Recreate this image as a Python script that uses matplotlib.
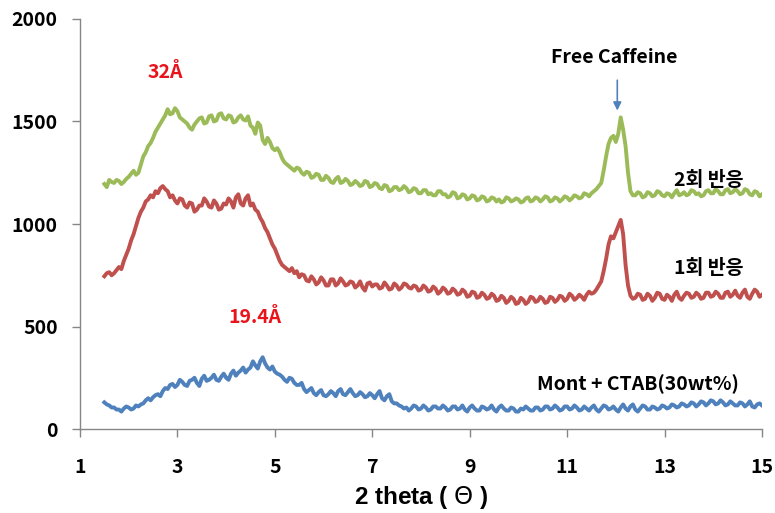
import numpy as np
import matplotlib.pyplot as plt

plt.rcParams['font.family'] = ['Noto Sans CJK KR', 'DejaVu Sans']

# 2-theta scan, 1.5 to 15 deg in 0.05 deg steps
two_theta = np.linspace(1.5, 15.0, 271)

# second reaction
react2 = [1195, 1180, 1215, 1205, 1200, 1215, 1210, 1195, 1205, 1220, 1230, 1245, 1260, 1240, 1250, 1290, 1330, 1350, 1380, 1395,
          1420, 1450, 1470, 1490, 1510, 1530, 1560, 1535, 1540, 1565, 1550, 1520, 1510, 1500, 1490, 1470, 1460, 1485, 1500, 1515,
          1520, 1490, 1495, 1525, 1530, 1500, 1505, 1535, 1540, 1515, 1510, 1530, 1525, 1495, 1500, 1520, 1530, 1510, 1505, 1525,
          1480, 1470, 1440, 1495, 1480, 1410, 1390, 1420, 1400, 1370, 1360, 1370, 1350, 1320, 1300, 1290, 1280, 1270, 1260, 1275,
          1270, 1250, 1240, 1255, 1250, 1225, 1230, 1245, 1240, 1215, 1215, 1235, 1225, 1205, 1200, 1220, 1230, 1200, 1205, 1220,
          1210, 1190, 1195, 1210, 1200, 1185, 1190, 1210, 1205, 1180, 1185, 1200, 1195, 1175, 1170, 1190, 1185, 1160, 1165, 1180,
          1180, 1165, 1170, 1185, 1175, 1155, 1160, 1175, 1170, 1150, 1150, 1165, 1165, 1145, 1150, 1140, 1140, 1160, 1160, 1145,
          1145, 1130, 1135, 1155, 1150, 1125, 1130, 1145, 1140, 1120, 1125, 1140, 1135, 1115, 1120, 1135, 1130, 1110, 1115, 1130,
          1125, 1110, 1120, 1105, 1110, 1130, 1125, 1110, 1115, 1125, 1120, 1105, 1110, 1125, 1130, 1110, 1115, 1130, 1125, 1110,
          1120, 1135, 1130, 1110, 1115, 1130, 1125, 1110, 1120, 1135, 1130, 1115, 1125, 1140, 1135, 1125, 1130, 1150, 1145, 1135,
          1150, 1160, 1170, 1185, 1200, 1260, 1330, 1390, 1420, 1430, 1400, 1440, 1520, 1460, 1380, 1250, 1160, 1140, 1140, 1155,
          1150, 1130, 1135, 1155, 1150, 1135, 1140, 1160, 1155, 1140, 1135, 1150, 1145, 1130, 1150, 1165, 1140, 1145, 1155, 1140,
          1145, 1165, 1160, 1145, 1150, 1135, 1140, 1160, 1165, 1150, 1150, 1170, 1160, 1145, 1145, 1165, 1170, 1150, 1155, 1170,
          1160, 1145, 1150, 1170, 1165, 1145, 1140, 1160, 1155, 1135, 1145]

# first reaction
react1 = [745, 760, 765, 750, 760, 775, 790, 780, 820, 850, 880, 920, 950, 990, 1030, 1060, 1080, 1110, 1120, 1140,
          1130, 1160, 1150, 1175, 1185, 1170, 1160, 1130, 1140, 1115, 1100, 1125, 1120, 1090, 1080, 1105, 1100, 1060, 1070, 1090,
          1090, 1125, 1110, 1085, 1080, 1115, 1100, 1070, 1075, 1100, 1095, 1125, 1110, 1080, 1130, 1145, 1100, 1090, 1125, 1140,
          1090, 1100, 1070, 1060, 1030, 1010, 980, 960, 930, 900, 880, 850, 820, 800, 790, 780, 770, 785, 760, 770,
          740, 755, 750, 725, 720, 745, 730, 705, 715, 740, 725, 700, 700, 730, 730, 700, 710, 735, 720, 700,
          705, 720, 715, 690, 700, 720, 690, 675, 710, 715, 695, 705, 705, 685, 690, 715, 700, 680, 685, 710,
          700, 680, 690, 710, 705, 690, 685, 700, 695, 675, 680, 700, 690, 670, 675, 695, 685, 660, 670, 690,
          680, 660, 665, 685, 675, 655, 660, 680, 670, 645, 650, 670, 665, 640, 645, 665, 655, 635, 640, 660,
          650, 625, 630, 650, 640, 615, 625, 645, 635, 610, 615, 640, 630, 610, 620, 645, 640, 620, 625, 645,
          635, 615, 620, 645, 640, 620, 630, 650, 645, 625, 635, 660, 650, 630, 640, 655, 645, 630, 655, 670,
          660, 665, 680, 700, 720, 770, 830, 900, 940, 930, 960, 990, 1020, 950, 800, 700, 650, 635, 640, 660,
          655, 630, 635, 660, 650, 625, 640, 665, 660, 635, 630, 655, 645, 625, 655, 670, 640, 630, 650, 665,
          660, 640, 645, 665, 655, 635, 640, 665, 665, 645, 650, 670, 660, 640, 640, 665, 670, 645, 655, 675,
          650, 640, 665, 680, 645, 635, 660, 680, 670, 645, 655]

# Mont + CTAB (30 wt%)
mont_ctab = [130, 120, 115, 105, 105, 95, 95, 85, 100, 110, 105, 95, 100, 115, 110, 120, 125, 140, 150, 140,
             155, 165, 170, 160, 185, 200, 195, 215, 220, 205, 215, 240, 230, 215, 210, 235, 240, 250, 225, 210,
             245, 260, 235, 240, 250, 265, 240, 235, 255, 270, 250, 240, 270, 285, 260, 275, 285, 300, 275, 290,
             300, 330, 310, 295, 330, 350, 320, 300, 290, 305, 280, 270, 265, 255, 240, 230, 250, 245, 225, 215,
             215, 225, 195, 180, 190, 200, 175, 165, 180, 190, 165, 160, 170, 185, 175, 160, 185, 195, 170, 165,
             180, 195, 175, 160, 165, 180, 170, 155, 160, 175, 165, 150, 170, 185, 150, 140, 160, 170, 135, 125,
             125, 115, 110, 100, 105, 90, 100, 115, 110, 95, 100, 115, 105, 90, 95, 110, 110, 100, 100, 115,
             105, 90, 95, 110, 110, 95, 100, 115, 95, 85, 105, 115, 100, 90, 90, 110, 105, 95, 100, 115,
             95, 85, 105, 115, 100, 90, 90, 105, 100, 85, 85, 100, 95, 110, 100, 90, 90, 105, 105, 90,
             95, 110, 110, 95, 100, 115, 105, 90, 95, 110, 110, 95, 100, 115, 105, 90, 95, 110, 100, 90,
             105, 115, 95, 85, 100, 115, 110, 95, 100, 110, 95, 85, 105, 120, 100, 90, 110, 120, 95, 85,
             100, 115, 110, 95, 95, 110, 105, 95, 100, 115, 110, 100, 105, 120, 115, 105, 110, 125, 120, 110,
             115, 130, 125, 110, 120, 135, 130, 115, 125, 140, 135, 120, 125, 140, 130, 115, 120, 135, 125, 115,
             115, 130, 125, 110, 120, 135, 110, 105, 120, 125, 115]

x_ticks = [1, 3, 5, 7, 9, 11, 13, 15]
y_ticks = [0, 500, 1000, 1500, 2000]

fig = plt.figure(figsize=(7.75, 5.13), dpi=100)
ax = fig.add_axes([0.1032, 0.1637, 0.8800, 0.7993])

ax.plot(two_theta, react2, color='#9BBB59', lw=2.8)
ax.plot(two_theta, react1, color='#C0504D', lw=2.8)
ax.plot(two_theta, mont_ctab, color='#4F81BD', lw=2.8)

ax.set_xlim(1, 15)
ax.set_ylim(0, 2000)
ax.set_xticks(x_ticks)
ax.set_yticks(y_ticks)

for s in ['top', 'right']:
    ax.spines[s].set_visible(False)
for s in ['left', 'bottom']:
    ax.spines[s].set_color('#868686')
    ax.spines[s].set_linewidth(1.0)

ax.tick_params(axis='both', direction='out', length=6, width=1.0,
               color='#868686', labelsize=14)
ax.tick_params(axis='x', pad=15)
ax.tick_params(axis='y', pad=10)
for lab in ax.get_xticklabels() + ax.get_yticklabels():
    lab.set_fontweight('bold')

ax.set_xlabel('2 theta ( $\\it{\\Theta}$ )', fontsize=17.5, fontweight='bold',
              family=['Liberation Sans', 'DejaVu Sans'], labelpad=5)

# labels and peak annotations
txt = dict(fontsize=14, ha='center', va='center', fontweight='bold')
ax.text(2.75, 1737, '32Å', color='#E8141B', **txt)
ax.text(4.6, 546, '19.4Å', color='#E8141B', **txt)
ax.text(11.96, 1810, 'Free Caffeine', **txt)
ax.annotate('', xy=(12.03, 1540), xytext=(12.03, 1715),
            arrowprops=dict(arrowstyle='-|>', color='#4F81BD', lw=1.2,
                            mutation_scale=12))
ax.text(13.9, 1210, '2회 반응', **txt)
ax.text(13.9, 785, '1회 반응', **txt)
ax.text(12.45, 220, 'Mont + CTAB(30wt%)', **txt)

fig.savefig('out.png', dpi=100)
